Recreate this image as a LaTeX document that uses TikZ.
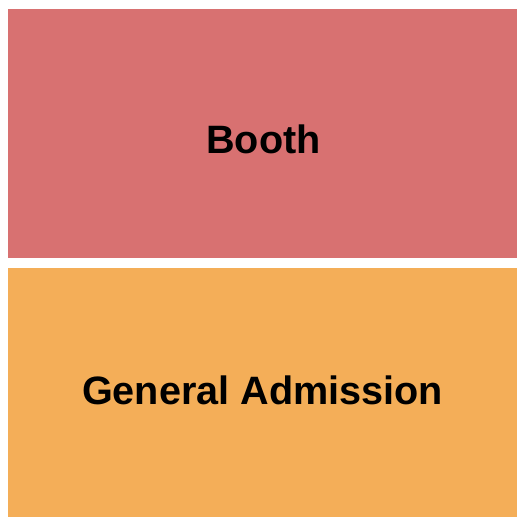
\documentclass[tikz,border=0pt]{standalone}
\usepackage{fontspec}
\setmainfont{Liberation Sans}
\definecolor{boothc}{HTML}{D87171}
\definecolor{gac}{HTML}{F4AE58}
\begin{document}
\begin{tikzpicture}[x=1pt,y=-1pt,
  section/.style={draw=none,inner sep=0pt,outer sep=0pt},
  lbl/.style={inner sep=0pt,anchor=base,font=\fontsize{39.6}{41}\selectfont\bfseries,text=black}]
\useasboundingbox (0,0) rectangle (525,525);
\fill[white] (0,0) rectangle (525,525);
\fill[boothc] (8,9) rectangle (517,258);
\fill[gac] (8,268) rectangle (517,517);
\node[lbl] (booth) at (263.5,153.5) {Booth};
\node[lbl] (ga) at (262.5,404) {General Admission};
\end{tikzpicture}
\end{document}
